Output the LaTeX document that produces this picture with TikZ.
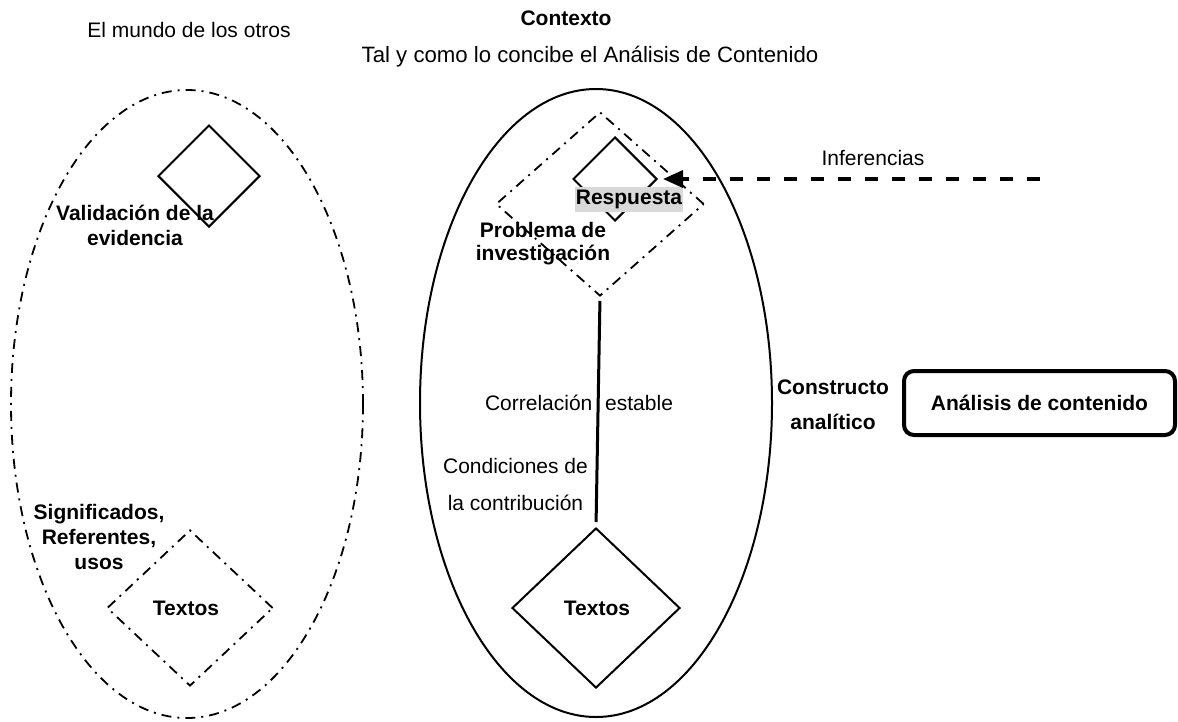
\documentclass[tikz,border=0pt]{standalone}
\usepackage{fontspec}
\setmainfont{Liberation Sans}
\usetikzlibrary{shapes.geometric,arrows.meta}
\tikzset{
  dashdot/.style={dash pattern=on 10pt off 6pt on 2pt off 6pt, line width=1.8pt},
  solidline/.style={line width=2pt},
  dia/.style={shape=diamond, inner sep=0pt, draw},
  oval/.style={shape=ellipse, inner sep=0pt, draw, minimum width=352pt, minimum height=628pt},
  lbl/.style={font=\fontsize{21}{25}\selectfont, inner sep=0pt, align=center},
  blbl/.style={font=\fontsize{21}{25}\selectfont\bfseries, inner sep=0pt, align=center},
}
\begin{document}
\begin{tikzpicture}[x=1pt,y=-1pt]
\useasboundingbox (0,0) rectangle (1178,721);
% titles
\node[lbl] (t1) at (189,30) {El mundo de los otros};
\node[blbl] (t2) at (566,18) {Contexto};
\node[lbl, font=\fontsize{22.2}{26}\selectfont] (t3) at (590,57) {Tal y como lo concibe el Análisis de Contenido};
% ellipses
\node[oval, dashdot] (left) at (187,404) {};
\node[oval, solidline] (right) at (596,403) {};
% left diamonds
\node[dia, solidline, minimum width=102pt, minimum height=102pt] (valD) at (209,176) {};
\node[blbl] (val) at (135,225) {Validación de la\\evidencia};
\node[dia, dashdot, minimum width=166pt, minimum height=156pt] (txtL) at (190,608) {};
\node[blbl] (txtLt) at (186,608) {Textos};
\node[blbl] (sig) at (99,537) {Significados,\\Referentes,\\usos};
% right diamonds
\node[dia, dashdot, minimum width=208pt, minimum height=184pt] (prob) at (600,204) {};
\node[dia, solidline, minimum width=84pt, minimum height=84pt] (respD) at (615,179) {};
\node[blbl, fill=black!15, inner xsep=1pt, minimum height=25pt] (resp) at (629,199.5) {Respuesta};
\node[blbl, font=\fontsize{21}{23}\selectfont\bfseries] (probt) at (543,243.5) {Problema de\\investigación};
\node[dia, solidline, minimum width=168pt, minimum height=160pt] (txtR) at (596,608) {};
\node[blbl] (txtRt) at (597,608) {Textos};
% connector
\draw[line width=3pt, shorten <=4pt, shorten >=5pt] (prob.south) -- (txtR.north);
% labels along connector
\node[lbl] (corr) at (579,403) {Correlación\hspace{7pt} estable};
\node[lbl, font=\fontsize{21}{37}\selectfont] (cond) at (515.5,484.5) {Condiciones de\\la contribución};
% inferencias arrow
\coordinate (infStart) at (1040,179);
\draw[line width=3.5pt, dash pattern=on 13pt off 14pt, -{Triangle[length=20pt,width=17pt]}, shorten >=5pt] (infStart) -- (respD.east);
\node[lbl] (inf) at (873,158) {Inferencias};
% constructo
\node[blbl, font=\fontsize{21}{35}\selectfont\bfseries] (cons) at (833,404.5) {Constructo\\analítico};
\node[blbl, draw, line width=4pt, rounded corners=10pt, minimum width=271pt, minimum height=64pt] (ac) at (1039.5,403) {Análisis de contenido};
\end{tikzpicture}
\end{document}
